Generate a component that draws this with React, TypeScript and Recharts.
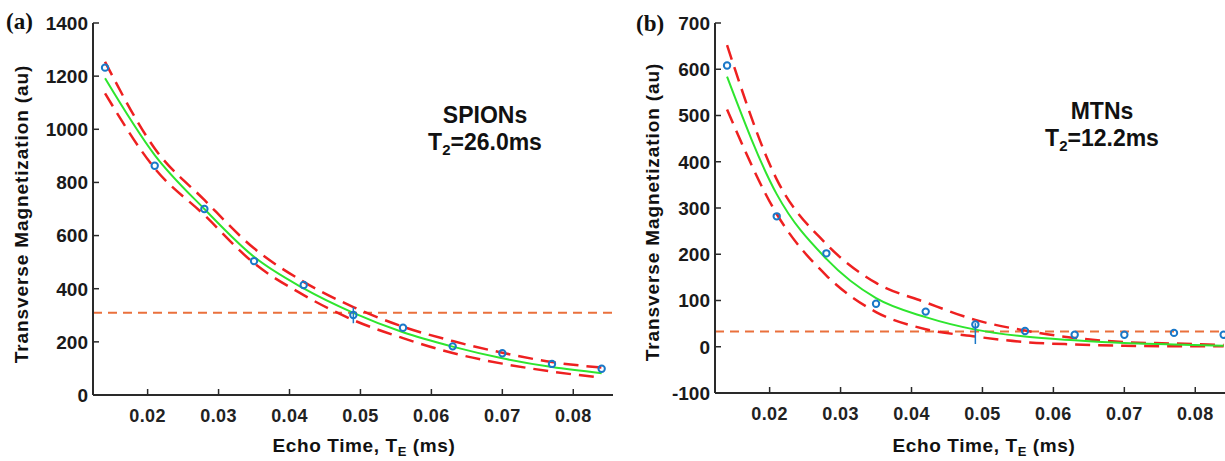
import { ComposedChart, Line, XAxis, YAxis, ReferenceLine, ErrorBar } from "recharts"

// echo times (x) shared by both panels
const echoTimes = [0.014, 0.021, 0.028, 0.035, 0.042, 0.049, 0.056, 0.063, 0.07, 0.077, 0.084]
const xTicks = [0.02, 0.03, 0.04, 0.05, 0.06, 0.07, 0.08]
const xDomain = [0.0123, 0.0856]

// (a) SPIONs
const spionMeasured = [1232, 863, 700, 504, 414, 301, 253, 183, 157, 117, 99]
const spionFit = [1192, 903, 700, 520, 401, 309, 236, 182, 138, 105, 82]
const spionUpper = [1254, 928, 734, 552, 426, 331, 257, 203, 159, 124, 103]
const spionLower = [1135, 853, 677, 496, 376, 282, 214, 158, 118, 88, 65]
const spionErrLow = [0, 0, 0, 0, 0, 31, 0, 0, 0, 0, 0]
const spionErrHigh = [0, 0, 0, 0, 0, 29, 0, 0, 0, 0, 0]
const spionThreshold = 310
const spionTicks = [0, 200, 400, 600, 800, 1000, 1200, 1400]

// (b) MTNs
const mtnMeasured = [608, 282, 202, 93, 76, 48, 34, 26, 26, 30, 26]
const mtnFit = [584, 330, 190, 105, 64, 37, 22, 14, 8, 5, 2]
const mtnUpper = [652, 362, 222, 138, 96, 58, 35, 19, 10, 7, 4]
const mtnLower = [513, 287, 154, 75, 38, 22, 10, 5, 2, 1, 1]
const mtnErrLow = [0, 0, 0, 0, 0, 42, 0, 0, 0, 0, 0]
const mtnErrHigh = [0, 0, 0, 0, 0, 3, 0, 0, 0, 0, 0]
const mtnThreshold = 33
const mtnTicks = [-100, 0, 100, 200, 300, 400, 500, 600, 700]

const font = "'Liberation Sans', Arial, sans-serif"
const axisColor = "#2a2a2a"
const blue = "#1a78c8"
const green = "#2ee52e"
const red = "#ee2020"
const orange = "#ea703c"

const buildRows = (m: number[], fit: number[], up: number[], lo: number[], eL: number[], eH: number[]) =>
  echoTimes.map((te, i) => ({ te, m: m[i], fit: fit[i], upper: up[i], lower: lo[i], err: [eL[i], eH[i]] }))

const spionRows = buildRows(spionMeasured, spionFit, spionUpper, spionLower, spionErrLow, spionErrHigh)
const mtnRows = buildRows(mtnMeasured, mtnFit, mtnUpper, mtnLower, mtnErrLow, mtnErrHigh)

const BottomTick = (props: any) => {
  const { x, y, payload } = props
  return (
    <g>
      <line x1={x} y1={y} x2={x} y2={y - 6} stroke={axisColor} strokeWidth={1.5} />
      <text x={x} y={y + 27} textAnchor="middle" fontFamily={font} fontWeight="bold" fontSize={18} letterSpacing={0.4} fill="#222">
        {Number(payload.value).toFixed(2)}
      </text>
    </g>
  )
}

const TopTick = (props: any) => {
  const { x, y } = props
  return <line x1={x} y1={y} x2={x} y2={y + 6} stroke={axisColor} strokeWidth={1.5} />
}

const LeftTick = (props: any) => {
  const { x, y, payload } = props
  return (
    <g>
      <line x1={x} y1={y} x2={x + 6} y2={y} stroke={axisColor} strokeWidth={1.5} />
      <text x={x - 5} y={y} dy="0.36em" textAnchor="end" fontFamily={font} fontWeight="bold" fontSize={19} fill="#1a1a1a">
        {payload.value}
      </text>
    </g>
  )
}

const RightTick = (props: any) => {
  const { x, y } = props
  return <line x1={x} y1={y} x2={x - 6} y2={y} stroke={axisColor} strokeWidth={1.5} />
}

function Panel({ rows, ticks, domain, threshold, yAxisWidth, xAxisHeight, right, showRight }: any) {
  return (
    <ComposedChart width={620} height={461} data={rows} margin={{ top: 23, right, bottom: 0, left: 0 }}>
      <XAxis
        dataKey="te"
        type="number"
        domain={xDomain}
        ticks={xTicks}
        height={xAxisHeight}
        tickSize={0}
        tickMargin={0}
        tickLine={false}
        tick={<BottomTick />}
        axisLine={{ stroke: axisColor, strokeWidth: 2 }}
        allowDataOverflow
      />
      <XAxis
        xAxisId="top"
        orientation="top"
        dataKey="te"
        type="number"
        domain={xDomain}
        ticks={xTicks}
        height={0}
        tickSize={0}
        tickMargin={0}
        tickLine={false}
        tick={<TopTick />}
        axisLine={{ stroke: axisColor, strokeWidth: 2 }}
        allowDataOverflow
      />
      <YAxis
        type="number"
        domain={domain}
        ticks={ticks}
        width={yAxisWidth}
        tickSize={0}
        tickMargin={0}
        tickLine={false}
        tick={<LeftTick />}
        axisLine={{ stroke: axisColor, strokeWidth: 2 }}
        allowDataOverflow
      />
      {showRight && (
        <YAxis
          yAxisId="right"
          orientation="right"
          type="number"
          domain={domain}
          ticks={ticks}
          width={0}
          tickSize={0}
          tickMargin={0}
          tickLine={false}
          tick={<RightTick />}
          axisLine={{ stroke: axisColor, strokeWidth: 2 }}
          allowDataOverflow
        />
      )}
      <ReferenceLine y={threshold} stroke={orange} strokeWidth={2} strokeDasharray="9 6" />
      <Line dataKey="upper" type="monotone" stroke={red} strokeWidth={2.5} strokeDasharray="15 8" dot={false} isAnimationActive={false} />
      <Line dataKey="lower" type="monotone" stroke={red} strokeWidth={2.5} strokeDasharray="15 8" dot={false} isAnimationActive={false} />
      <Line dataKey="fit" type="monotone" stroke={green} strokeWidth={2} dot={false} isAnimationActive={false} />
      <Line
        dataKey="m"
        stroke="none"
        dot={{ r: 3.2, fill: "none", stroke: blue, strokeWidth: 2 }}
        isAnimationActive={false}
      >
        <ErrorBar dataKey="err" direction="y" width={0} stroke={blue} strokeWidth={1.5} />
      </Line>
    </ComposedChart>
  )
}

const labelStyle = { fontFamily: font, fontWeight: "bold" as const, fill: "#111" }

function Overlay({ tag, tagX, tagY, yLabelX, yLabelY, xLabelX, name, t2, noteX, noteY }: any) {
  return (
    <svg width={620} height={461} style={{ position: "absolute", left: 0, top: 0, pointerEvents: "none" }}>
      <text x={tagX} y={tagY} fontFamily="'Liberation Serif', 'Times New Roman', serif" fontWeight="bold" fontSize={23} fill="#111">
        {tag}
      </text>
      <text
        transform={`translate(${yLabelX},${yLabelY}) rotate(-90)`}
        textAnchor="middle"
        dy="0.36em"
        fontSize={19}
        letterSpacing={0.9}
        {...labelStyle}
      >
        Transverse Magnetization (au)
      </text>
      <text x={xLabelX} y={452} textAnchor="middle" fontSize={19} letterSpacing={0.6} {...labelStyle}>
        Echo Time, T<tspan fontSize={13} dy={4}>E</tspan>
        <tspan dy={-4}> (ms)</tspan>
      </text>
      <text x={noteX} y={noteY} textAnchor="middle" fontSize={23} {...labelStyle}>
        {name}
      </text>
      <text x={noteX} y={noteY + 27} textAnchor="middle" fontSize={23} {...labelStyle}>
        T<tspan fontSize={15} dy={5}>2</tspan>
        <tspan dy={-5}>={t2}ms</tspan>
      </text>
    </svg>
  )
}

export default function App() {
  return (
    <div style={{ position: "absolute", left: 0, top: 0, width: 1225, height: 461, overflow: "hidden", background: "#fff" }}>
      <div style={{ position: "absolute", left: 0, top: 0, width: 620, height: 461 }}>
        <Panel rows={spionRows} ticks={spionTicks} domain={[0, 1400]} threshold={spionThreshold} yAxisWidth={93} xAxisHeight={66} right={7} showRight />
        <Overlay tag="(a)" tagX={6} tagY={29} yLabelX={21} yLabelY={214} xLabelX={364} name="SPIONs" t2="26.0" noteX={485} noteY={123} />
      </div>
      <div style={{ position: "absolute", left: 620, top: 0, width: 620, height: 461 }}>
        <Panel rows={mtnRows} ticks={mtnTicks} domain={[-100, 700]} threshold={mtnThreshold} yAxisWidth={95} xAxisHeight={68} right={5} showRight={false} />
        <Overlay tag="(b)" tagX={16} tagY={31} yLabelX={32} yLabelY={212} xLabelX={364} name="MTNs" t2="12.2" noteX={482} noteY={119} />
      </div>
    </div>
  )
}
